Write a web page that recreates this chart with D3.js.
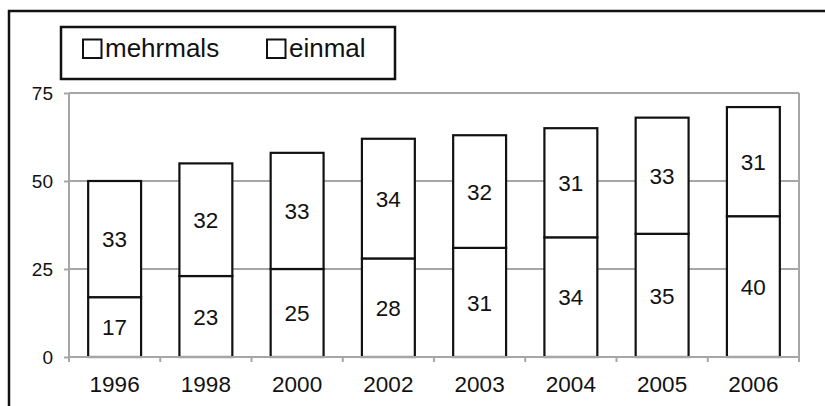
<!DOCTYPE html>
<html>
<head>
<meta charset="utf-8">
<script src="https://cdn.jsdelivr.net/npm/d3@7"></script>
<style>
  html, body { margin: 0; padding: 0; background: #fff; }
  svg { display: block; font-family: "Liberation Sans", Arial, sans-serif; }
</style>
</head>
<body>
<svg id="chart" width="825" height="406"></svg>
<script>
// Survey years and stacked counts
const years = ["1996", "1998", "2000", "2002", "2003", "2004", "2005", "2006"];
const mehrmals = [17, 23, 25, 28, 31, 34, 35, 40];
const einmal = [33, 32, 33, 34, 32, 31, 33, 31];
const yTicks = [0, 25, 50, 75];
const seriesNames = ["mehrmals", "einmal"];

const svg = d3.select("#chart");
const W = 825, H = 406;
const FONT = "Liberation Sans, Arial, sans-serif";
const plot = { left: 69, right: 799, top: 93, bottom: 357 };

// Outer frame (runs off the right and bottom edges)
svg.append("path")
  .attr("d", `M9,${H + 5} L9,11 L${W + 5},11`)
  .attr("fill", "none").attr("stroke", "#111").attr("stroke-width", 2.5);

const x = d3.scaleBand().domain(years).range([plot.left, plot.right]).paddingInner(0.42).paddingOuter(0.21);
const xb = d3.scaleBand().domain(years).range([plot.left, plot.right]);
const y = d3.scaleLinear().domain([0, 75]).range([plot.bottom, plot.top]);

// Horizontal gridlines
svg.append("g").selectAll("line").data(yTicks.filter(t => t > 0)).join("line")
  .attr("x1", plot.left).attr("x2", plot.right)
  .attr("y1", d => y(d)).attr("y2", d => y(d))
  .attr("stroke", "#a6a6a6").attr("stroke-width", 2);

// Plot frame sides
svg.append("path")
  .attr("d", `M${plot.left},${plot.bottom} L${plot.left},${y(75)} M${plot.right},${y(75)} L${plot.right},${plot.bottom}`)
  .attr("stroke", "#a6a6a6").attr("stroke-width", 2).attr("fill", "none");

// Y axis
const yAxis = svg.append("g").attr("transform", `translate(${plot.left},0)`)
  .call(d3.axisLeft(y).tickValues(yTicks).tickSize(5).tickPadding(11));
yAxis.select(".domain").remove();
yAxis.selectAll("line").attr("stroke", "#a6a6a6").attr("stroke-width", 2);
yAxis.selectAll("text").attr("font-size", 19).attr("fill", "#111").attr("font-family", FONT);

// Stacked bars
const stackData = years.map((yr, i) => ({ year: yr, mehrmals: mehrmals[i], einmal: einmal[i] }));
const stacked = d3.stack().keys(seriesNames)(stackData);

stacked.forEach(layer => {
  const g = svg.append("g");
  g.selectAll("rect").data(layer).join("rect")
    .attr("x", d => x(d.data.year))
    .attr("width", x.bandwidth())
    .attr("y", d => y(d[1]))
    .attr("height", d => y(d[0]) - y(d[1]))
    .attr("fill", "#fff").attr("stroke", "#111").attr("stroke-width", 2.2);
  g.selectAll("text").data(layer).join("text")
    .attr("x", d => x(d.data.year) + x.bandwidth() / 2)
    .attr("y", d => (y(d[0]) + y(d[1])) / 2)
    .attr("dy", "0.36em")
    .attr("text-anchor", "middle")
    .attr("font-size", 22.5).attr("fill", "#111")
    .text(d => d.data[layer.key]);
});

// X axis
const xAxis = svg.append("g").attr("transform", `translate(0,${plot.bottom})`)
  .call(d3.axisBottom(xb).tickSize(0).tickPadding(19));
xAxis.select(".domain").attr("stroke", "#a6a6a6").attr("stroke-width", 2)
  .attr("d", `M${plot.left},0H${plot.right}`);
xAxis.selectAll("text").attr("font-size", 22.5).attr("fill", "#111").attr("font-family", FONT);
// Tick marks between categories
svg.append("g").selectAll("line").data(years.concat(["end"])).join("line")
  .attr("x1", (d, i) => plot.left + i * xb.step())
  .attr("x2", (d, i) => plot.left + i * xb.step())
  .attr("y1", plot.bottom).attr("y2", plot.bottom + 5)
  .attr("stroke", "#a6a6a6").attr("stroke-width", 2);

// Legend
const legend = svg.append("g");
legend.append("rect").attr("x", 61).attr("y", 27).attr("width", 334).attr("height", 52)
  .attr("fill", "#fff").attr("stroke", "#111").attr("stroke-width", 2.5);
const legendX = [83, 267];
seriesNames.forEach((name, i) => {
  legend.append("rect").attr("x", legendX[i]).attr("y", 39.5).attr("width", 18.5).attr("height", 18.5)
    .attr("fill", "#fff").attr("stroke", "#111").attr("stroke-width", 2);
  legend.append("text").attr("x", legendX[i] + 22).attr("y", 57)
    .attr("font-size", 26).attr("fill", "#111").attr("font-family", FONT).text(name);
});
</script>
</body>
</html>
